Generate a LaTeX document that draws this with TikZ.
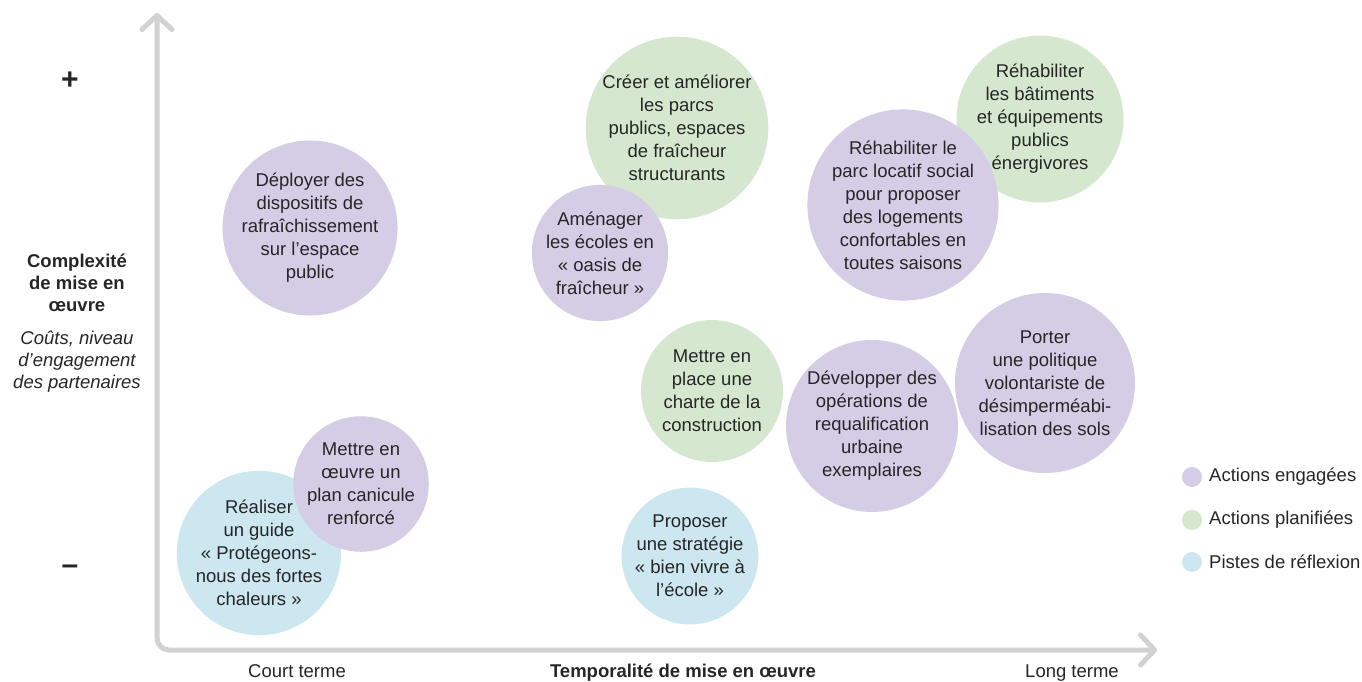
\documentclass[tikz,border=0pt]{standalone}
\usepackage{fontspec}
\setmainfont{Liberation Sans}
\usetikzlibrary{arrows.meta}
\definecolor{purp}{HTML}{D4CDE5}
\definecolor{gree}{HTML}{D5E8CF}
\definecolor{blu}{HTML}{CCE7EF}
\definecolor{axisgray}{HTML}{D2D2D2}
\definecolor{txt}{HTML}{262626}
\begin{document}
\begin{tikzpicture}[x=1pt,y=-1pt,
  font=\fontsize{18.5}{22}\selectfont,
  bubble/.style={circle, inner sep=0pt, align=center, text=txt, font=\fontsize{18.5}{23}\selectfont},
  legdot/.style={circle, inner sep=0pt, minimum size=20pt},
  legtext/.style={anchor=west, text=txt, inner sep=0pt},
  lbl/.style={text=txt, align=center, inner sep=0pt},
  axisline/.style={draw=axisgray, line width=5pt, rounded corners=12pt,
    {Straight Barb[length=14pt,width=30pt,round]}-{Straight Barb[length=14pt,width=30pt,round]}}
]
\path[use as bounding box] (0,0) rectangle (1362,681);

% axes
\coordinate (ytop) at (157,13);
\coordinate (xend) at (1157,650);
\draw[axisline] (ytop) |- (xend);

% bubbles
\node[bubble, fill=purp, minimum size=164pt] (c1) at (310,228) {Déployer des\\dispositifs de\\rafraîchissement\\sur l’espace\\public};
\node[bubble, fill=gree, minimum size=182pt] (c2) at (677,128) {Créer et améliorer\\les parcs\\publics, espaces\\de fraîcheur\\structurants};
\node[bubble, fill=purp, minimum size=134pt] (c3) at (600,253) {Aménager\\les écoles en\\« oasis de\\fraîcheur »};
\node[bubble, fill=gree, minimum size=150pt] (c5) at (1040,119) {Réhabiliter\\les bâtiments\\et équipements\\publics\\énergivores};
\node[bubble, fill=purp, minimum size=190pt] (c4) at (903,205) {Réhabiliter le\\parc locatif social\\pour proposer\\des logements\\confortables en\\toutes saisons};
\node[bubble, fill=gree, minimum size=142pt] (c6) at (712,391) {Mettre en\\place une\\charte de la\\construction};
\node[bubble, fill=purp, minimum size=172pt] (c7) at (872,426) {Développer des\\opérations de\\requalification\\urbaine\\exemplaires};
\node[bubble, fill=purp, minimum size=180pt] (c8) at (1045,383) {Porter\\une politique\\volontariste de\\désimperméabi-\\lisation des sols};
\node[bubble, fill=blu, minimum size=128pt] (c9) at (690,556) {Proposer\\une stratégie\\« bien vivre à\\l’école »};
\node[bubble, fill=blu, minimum size=152pt] (c11) at (259,553) {Réaliser\\un guide\\« Protégeons-\\nous des fortes\\chaleurs »};
\node[bubble, fill=purp, minimum size=130pt] (c10) at (361,484) {Mettre en\\œuvre un\\plan canicule\\renforcé};

% y-axis labels
\node[lbl, font=\fontsize{30}{30}\selectfont\bfseries] (plus) at (70,81) {+};
\node[lbl, font=\fontsize{30}{30}\selectfont\bfseries] (minus) at (70,570) {–};
\node[lbl, font=\fontsize{18.5}{22}\selectfont\bfseries] (ytitle) at (77,283) {Complexité\\de mise en\\œuvre};
\node[lbl, font=\fontsize{18.5}{22}\selectfont\itshape] (ysub) at (77,362) {Coûts, niveau\\d’engagement\\des partenaires};

% x-axis labels
\node[lbl, anchor=base] (court) at (297,677) {Court terme};
\node[lbl, anchor=base, font=\fontsize{18.5}{22}\selectfont\bfseries] (xtitle) at (683,677) {Temporalité de mise en œuvre};
\node[lbl, anchor=base] (long) at (1072,677) {Long terme};

% legend
\node[legdot, fill=purp] (l1) at (1192,477) {};
\node[legdot, fill=gree] (l2) at (1192,520) {};
\node[legdot, fill=blu] (l3) at (1192,562) {};
\node[legtext] (t1) at (1209,477) {Actions engagées};
\node[legtext] (t2) at (1209,520) {Actions planifiées};
\node[legtext] (t3) at (1209,562) {Pistes de réflexion};
\end{tikzpicture}
\end{document}
